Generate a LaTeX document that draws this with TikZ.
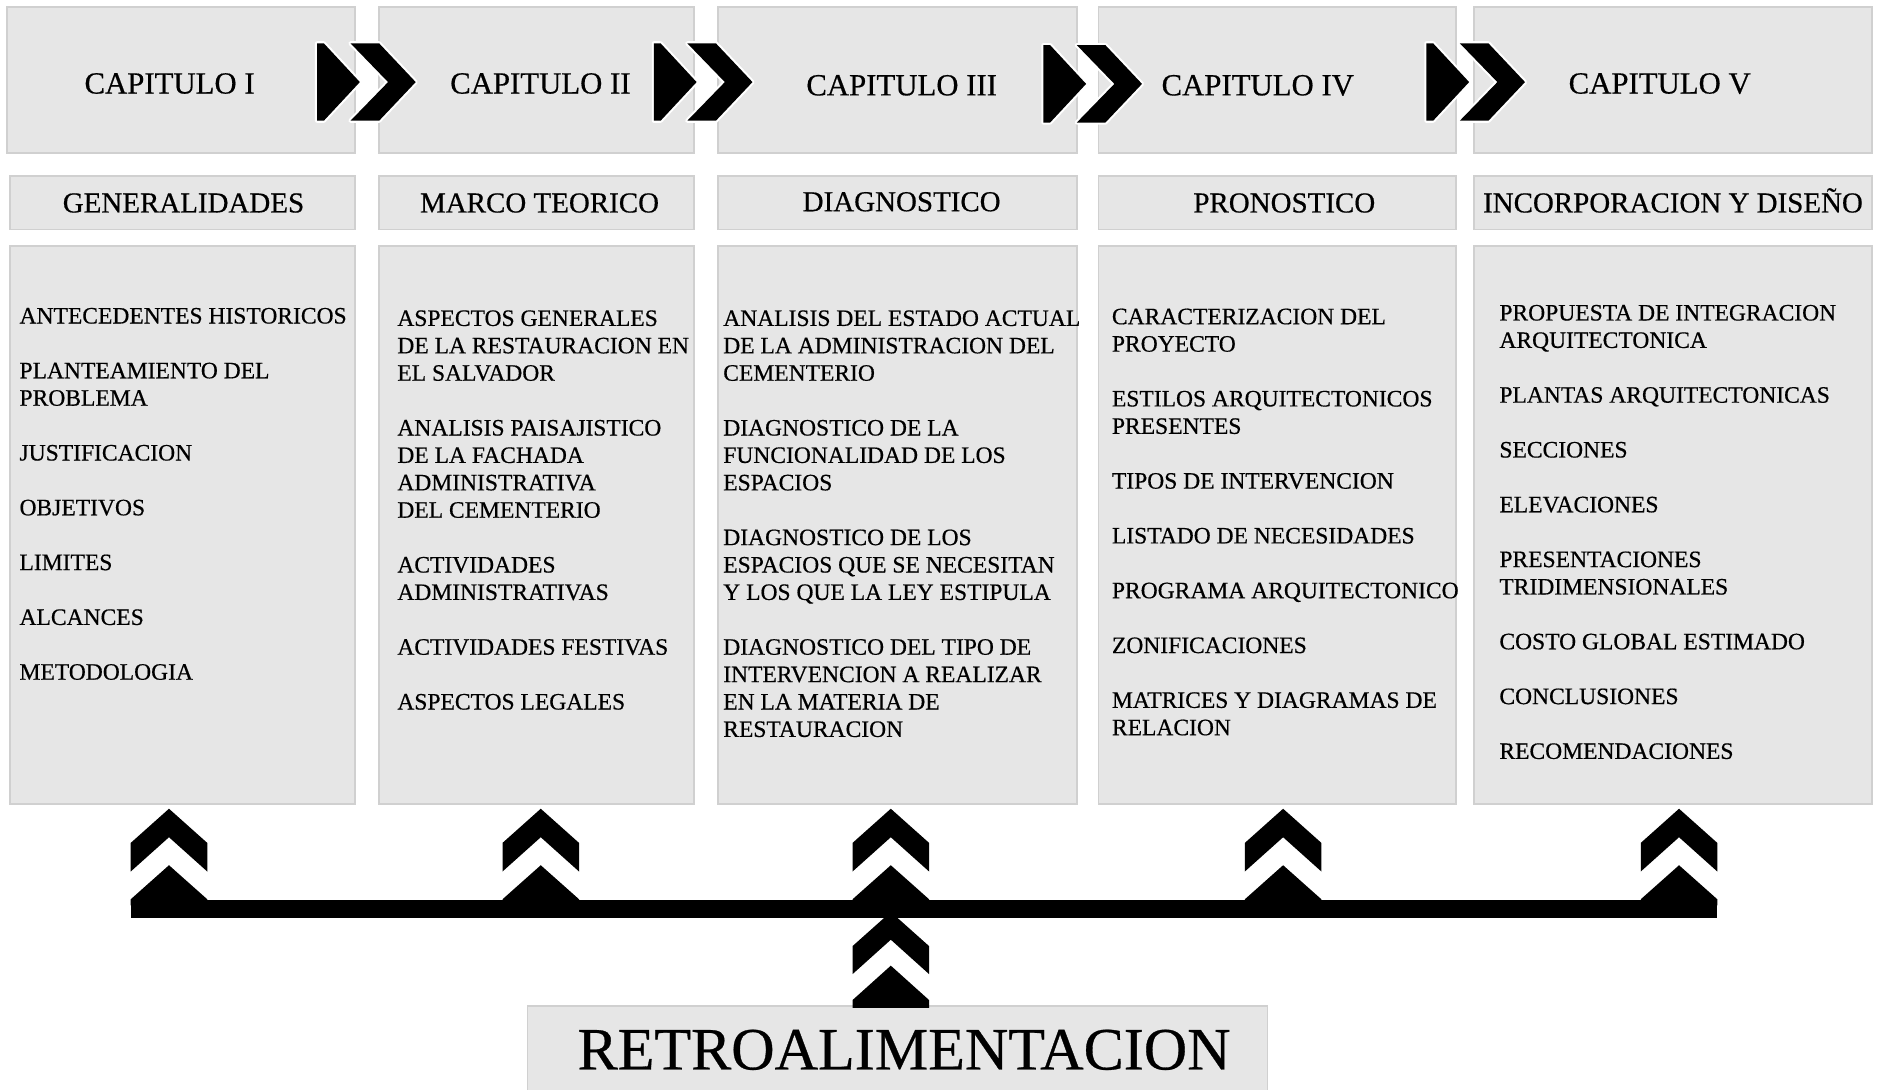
\documentclass[tikz,border=0pt]{standalone}
\usepackage{fontspec}
\setmainfont[FakeBold=0.5]{Liberation Serif}
\definecolor{boxgray}{HTML}{E6E6E6}
\definecolor{boxedge}{HTML}{D0D0D0}
\newcommand{\bodyfont}{\raggedright\fontsize{19.5}{22.7}\selectfont}
\newcommand{\gp}{22.7pt}
\newcommand{\chevpair}{%
  \fill[black, preaction={draw=white, line width=3.5pt, line join=round}]
    (262.7,35.9) -- (268.3,35.9) -- (298.1,68) -- (268.3,100) -- (262.7,100) -- cycle;
  \fill[black, preaction={draw=white, line width=3.5pt, line join=round}]
    (290.4,35.9) -- (314.1,35.9) -- (344.4,68) -- (314.1,100) -- (290.4,100) -- (321.5,68) -- cycle;}
\newcommand{\upchev}{%
  \fill[black] (0,670) -- (31.7,698.3) -- (31.7,722) -- (0,693.6) -- (-31.7,722) -- (-31.7,698.3) -- cycle;
  \fill[black] (0,716.8) -- (31.7,745) -- (31.7,750) -- (-31.7,750) -- (-31.7,745) -- cycle;}
\begin{document}
\begin{tikzpicture}[x=1pt,y=-1pt,
  gbox/.style={fill=boxgray, draw=boxedge, line width=1.4pt, inner sep=0, outer sep=0, anchor=north west},
  chap/.style={anchor=base, inner sep=0, font=\fontsize{25.5}{30}\selectfont},
  ttl/.style={anchor=base, inner sep=0, font=\fontsize{24}{28}\selectfont},
  body/.style={anchor=base west, inner sep=0}]
\useasboundingbox[fill=white] (0,0) rectangle (1563.3,903);

% row 1: chapter boxes
\node[gbox, minimum width=288pt, minimum height=121pt] (r1c1) at (6,6) {};
\node[gbox, minimum width=261pt, minimum height=121pt] (r1c2) at (314,6) {};
\node[gbox, minimum width=297pt, minimum height=121pt] (r1c3) at (595,6) {};
\node[gbox, minimum width=296pt, minimum height=121pt] (r1c4) at (910,6) {};
\node[gbox, minimum width=330pt, minimum height=121pt] (r1c5) at (1221,6) {};
% row 2: titles
\node[gbox, minimum width=286pt, minimum height=44pt] (r2c1) at (8,146) {};
\node[gbox, minimum width=261pt, minimum height=44pt] (r2c2) at (314,146) {};
\node[gbox, minimum width=297pt, minimum height=44pt] (r2c3) at (595,146) {};
\node[gbox, minimum width=296pt, minimum height=44pt] (r2c4) at (910,146) {};
\node[gbox, minimum width=330pt, minimum height=44pt] (r2c5) at (1221,146) {};
% row 3: contents
\node[gbox, minimum width=286pt, minimum height=462pt] (r3c1) at (8,204) {};
\node[gbox, minimum width=261pt, minimum height=462pt] (r3c2) at (314,204) {};
\node[gbox, minimum width=297pt, minimum height=462pt] (r3c3) at (595,204) {};
\node[gbox, minimum width=296pt, minimum height=462pt] (r3c4) at (910,204) {};
\node[gbox, minimum width=330pt, minimum height=462pt] (r3c5) at (1221,204) {};
% feedback box
\node[gbox, minimum width=613pt, minimum height=75pt] (retro) at (437,833.5) {};

% chevron pairs between chapters
\chevpair
\begin{scope}[shift={(279,0)}]\chevpair\end{scope}
\begin{scope}[shift={(601.7,1.5)}]\chevpair\end{scope}
\begin{scope}[shift={(919,0)}]\chevpair\end{scope}

% feedback bar and arrows
\fill[black] (108.3,746) rectangle (1422.7,760.5);
\foreach \cx in {140,448,738,1063,1391}{
  \begin{scope}[shift={(\cx,0)}]\upchev\end{scope}
}
\begin{scope}[shift={(738,0)}]
  \fill[black] (0,755.5) -- (31.7,783.8) -- (31.7,807) -- (0,778.5) -- (-31.7,807) -- (-31.7,783.8) -- cycle;
  \fill[black] (0,800) -- (31.7,828.5) -- (31.7,835) -- (-31.7,835) -- (-31.7,828.5) -- cycle;
\end{scope}

% chapter labels
\node[chap] (ch1) at (140.5,77.5) {CAPITULO I};
\node[chap] (ch2) at (447.7,77.5) {CAPITULO II};
\node[chap] (ch3) at (747,79) {CAPITULO III};
\node[chap] (ch4) at (1042,79) {CAPITULO IV};
\node[chap] (ch5) at (1375,77.5) {CAPITULO V};
% titles
\node[ttl] (t1) at (152,176) {GENERALIDADES};
\node[ttl] (t2) at (447,176) {MARCO TEORICO};
\node[ttl] (t3) at (747,175) {DIAGNOSTICO};
\node[ttl] (t4) at (1064,176) {PRONOSTICO};
\node[ttl] (t5) at (1386,176) {INCORPORACION Y DISEÑO};

% contents
\node[body] (b1) at (16,268) {\parbox[t]{420pt}{\bodyfont
ANTECEDENTES HISTORICOS\\[\gp]
PLANTEAMIENTO DEL\\PROBLEMA\\[\gp]
JUSTIFICACION\\[\gp]
OBJETIVOS\\[\gp]
LIMITES\\[\gp]
ALCANCES\\[\gp]
METODOLOGIA}};
\node[body] (b2) at (329,270) {\parbox[t]{420pt}{\bodyfont
ASPECTOS GENERALES\\DE LA RESTAURACION EN\\EL SALVADOR\\[\gp]
ANALISIS PAISAJISTICO\\DE LA FACHADA\\ADMINISTRATIVA\\DEL CEMENTERIO\\[\gp]
ACTIVIDADES\\ADMINISTRATIVAS\\[\gp]
ACTIVIDADES FESTIVAS\\[\gp]
ASPECTOS LEGALES}};
\node[body] (b3) at (599,270) {\parbox[t]{420pt}{\bodyfont
ANALISIS DEL ESTADO ACTUAL\\DE LA ADMINISTRACION DEL\\CEMENTERIO\\[\gp]
DIAGNOSTICO DE LA\\FUNCIONALIDAD DE LOS\\ESPACIOS\\[\gp]
DIAGNOSTICO DE LOS\\ESPACIOS QUE SE NECESITAN\\Y LOS QUE LA LEY ESTIPULA\\[\gp]
DIAGNOSTICO DEL TIPO DE\\INTERVENCION A REALIZAR\\EN LA MATERIA DE\\RESTAURACION}};
\node[body] (b4) at (921,268.6) {\parbox[t]{420pt}{\bodyfont
CARACTERIZACION DEL\\PROYECTO\\[\gp]
ESTILOS ARQUITECTONICOS\\PRESENTES\\[\gp]
TIPOS DE INTERVENCION\\[\gp]
LISTADO DE NECESIDADES\\[\gp]
PROGRAMA ARQUITECTONICO\\[\gp]
ZONIFICACIONES\\[\gp]
MATRICES Y DIAGRAMAS DE\\RELACION}};
\node[body] (b5) at (1242,265.5) {\parbox[t]{420pt}{\bodyfont
PROPUESTA DE INTEGRACION\\ARQUITECTONICA\\[\gp]
PLANTAS ARQUITECTONICAS\\[\gp]
SECCIONES\\[\gp]
ELEVACIONES\\[\gp]
PRESENTACIONES\\TRIDIMENSIONALES\\[\gp]
COSTO GLOBAL ESTIMADO\\[\gp]
CONCLUSIONES\\[\gp]
RECOMENDACIONES}};

\node[anchor=base, inner sep=0, font=\fontsize{49.8}{56}\selectfont] (rt) at (749,886) {RETROALIMENTACION};
\end{tikzpicture}
\end{document}
